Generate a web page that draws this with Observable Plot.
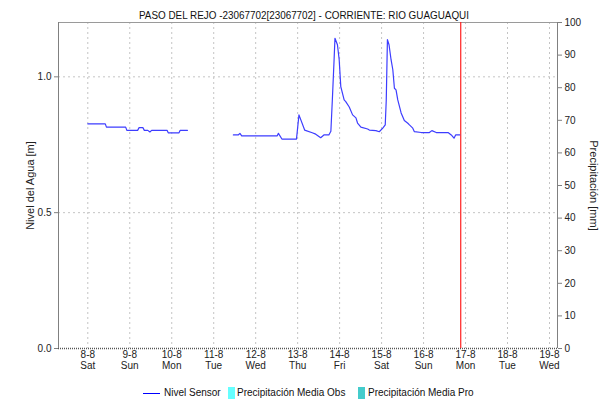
<!DOCTYPE html>
<html>
<head>
<meta charset="utf-8">
<script src="https://cdn.jsdelivr.net/npm/d3@7"></script>
<script src="https://cdn.jsdelivr.net/npm/@observablehq/plot@0.6"></script>
<style>
  html, body { margin: 0; padding: 0; background: #fff; }
  #wrap { position: relative; width: 607px; height: 402px; font-family: "Liberation Sans", Arial, sans-serif; }
  #chart { position: absolute; left: 0; top: 0; }
  .lg { position: absolute; top: 387px; font-size: 10px; color: #111; line-height: 12px; white-space: nowrap; }
  .sw { position: absolute; top: 387px; width: 7px; height: 12px; }
  .ln { position: absolute; top: 393px; height: 1px; background: #0000ff; }
</style>
</head>
<body>
<div id="wrap">
  <div id="chart"></div>
  <div class="ln" style="left:143px;width:17px"></div>
  <div class="lg" style="left:164px">Nivel Sensor</div>
  <div class="sw" style="left:228px;background:#66ffff"></div>
  <div class="lg" style="left:237px">Precipitación Media Obs</div>
  <div class="sw" style="left:358px;background:#44cccc"></div>
  <div class="lg" style="left:368px">Precipitación Media Pro</div>
</div>
<script>
const title = "PASO DEL REJO -23067702[23067702] - CORRIENTE: RIO GUAGUAQUI";
const yLabelLeft = "Nivel del Agua [m]";
const yLabelRight = "Precipitación [mm]";

// Nivel Sensor series (null = gap in the record)
const times = [
  "2020-08-08T00:00","2020-08-08T10:00","2020-08-08T10:40","2020-08-08T21:40","2020-08-08T22:20",
  "2020-08-09T04:30","2020-08-09T05:20","2020-08-09T07:30","2020-08-09T08:20","2020-08-09T10:20",
  "2020-08-09T11:30","2020-08-09T12:30","2020-08-09T21:20","2020-08-09T22:00","2020-08-10T04:10",
  "2020-08-10T04:50","2020-08-10T09:00","2020-08-10T12:00",
  "2020-08-11T11:15","2020-08-11T14:00","2020-08-11T15:00","2020-08-11T16:00","2020-08-12T12:20",
  "2020-08-12T13:00","2020-08-12T15:00","2020-08-12T23:20","2020-08-13T00:45","2020-08-13T04:00",
  "2020-08-13T08:20","2020-08-13T10:20","2020-08-13T13:10","2020-08-13T15:00","2020-08-13T17:50",
  "2020-08-13T19:00","2020-08-13T19:50","2020-08-13T20:50","2020-08-13T21:20","2020-08-13T22:45",
  "2020-08-13T23:45","2020-08-14T00:40","2020-08-14T02:35","2020-08-14T03:30","2020-08-14T05:30",
  "2020-08-14T07:25","2020-08-14T09:20","2020-08-14T10:15","2020-08-14T12:10","2020-08-14T16:00",
  "2020-08-14T17:00","2020-08-14T20:45","2020-08-14T22:40","2020-08-15T00:40","2020-08-15T02:05",
  "2020-08-15T02:40","2020-08-15T03:20","2020-08-15T04:15","2020-08-15T05:25","2020-08-15T06:25",
  "2020-08-15T07:20","2020-08-15T08:15","2020-08-15T09:15","2020-08-15T11:10","2020-08-15T13:00",
  "2020-08-15T15:00","2020-08-15T15:55","2020-08-15T17:50","2020-08-15T18:45","2020-08-15T22:40",
  "2020-08-16T03:20","2020-08-16T04:45","2020-08-16T07:15","2020-08-16T14:00","2020-08-16T15:50",
  "2020-08-16T17:25","2020-08-16T18:20","2020-08-16T20:40"
];
const levels = [
  0.827,0.827,0.815,0.815,0.803,
  0.803,0.813,0.813,0.803,0.803,
  0.797,0.803,0.803,0.794,0.794,
  0.803,0.803,null,
  0.786,0.786,0.792,0.783,0.783,
  0.792,0.771,0.771,0.860,0.804,
  0.794,0.789,0.776,0.786,0.786,
  0.800,0.915,1.063,1.142,1.118,
  1.063,0.964,0.915,0.909,0.889,
  0.860,0.849,0.830,0.815,0.808,
  0.804,0.802,0.798,0.811,0.823,
  0.915,1.137,1.118,1.063,1.026,
  0.958,0.952,0.915,0.867,0.839,
  0.829,0.823,0.811,0.798,0.795,
  0.795,0.802,0.795,0.795,0.786,
  0.774,0.786,0.786
];

// axis ticks
const tickDates = ["2020-08-08","2020-08-09","2020-08-10","2020-08-11","2020-08-12","2020-08-13",
                   "2020-08-14","2020-08-15","2020-08-16","2020-08-17","2020-08-18","2020-08-19"];
const tickDayLabels = ["8-8","9-8","10-8","11-8","12-8","13-8","14-8","15-8","16-8","17-8","18-8","19-8"];
const tickWeekdays = ["Sat","Sun","Mon","Tue","Wed","Thu","Fri","Sat","Sun","Mon","Tue","Wed"];
const leftTicks = [0, 0.5, 1.0];
const rightTicks = [0,10,20,30,40,50,60,70,80,90,100];
const xStart = "2020-08-07T07:15";
const xEnd = "2020-08-19T04:35";
const nowTime = "2020-08-16T21:15";
const yMax = 1.2;
const rightMax = 100;

const P = s => new Date(s + (s.length === 10 ? "T00:00Z" : "Z"));
const series = times.map((t, i) => ({t: P(t), v: levels[i]}));
const xt = tickDates.map((d, i) => ({t: P(d), day: tickDayLabels[i], wd: tickWeekdays[i]}));
const toLeft = r => r * yMax / rightMax;

const chart = Plot.plot({
  width: 607,
  height: 380,
  marginTop: 22,
  marginBottom: 32,
  marginLeft: 58,
  marginRight: 50,
  style: {fontFamily: "'Liberation Sans', Arial, sans-serif", fontSize: "10px", color: "#222", background: "#fff"},
  x: {type: "utc", domain: [P(xStart), P(xEnd)], axis: null},
  y: {domain: [0, yMax], axis: null},
  marks: [
    // grid
    Plot.ruleX(xt, {x: "t", stroke: "#c4c4c4", strokeDasharray: "2,3"}),
    Plot.ruleY(leftTicks.filter(d => d > 0), {y: d => d, stroke: "#c4c4c4", strokeDasharray: "2,3"}),
    // frame parts
    Plot.ruleY([yMax], {stroke: "#9a9a9a"}),
    Plot.ruleY([0], {stroke: "#555", strokeDasharray: "1,1", strokeWidth: 1.5}),
    Plot.ruleX([P(xStart), P(xEnd)], {stroke: "#808080"}),
    // left axis
    Plot.axisY(leftTicks, {anchor: "left", tickSize: 4, tickPadding: 3, tickFormat: d => d.toFixed(1), label: null, stroke: "#808080"}),
    // right axis (precipitation)
    Plot.axisY(rightTicks.map(toLeft), {anchor: "right", tickSize: 4, tickPadding: 3,
      tickFormat: d => String(Math.round(d * rightMax / yMax)), label: null, stroke: "#808080"}),
    // x tick labels
    Plot.text(xt, {x: "t", text: "day", frameAnchor: "bottom", dy: 9, fill: "#222"}),
    Plot.text(xt, {x: "t", text: "wd", frameAnchor: "bottom", dy: 20, fill: "#222"}),
    // axis titles
    Plot.text([yLabelLeft], {text: d => d, frameAnchor: "left", textAnchor: "middle", dx: -28, rotate: -90, fontSize: 11, fill: "#222"}),
    Plot.text([yLabelRight], {text: d => d, frameAnchor: "right", textAnchor: "middle", dx: 36, rotate: 90, fontSize: 11, fill: "#222"}),
    // title
    Plot.text([title], {text: d => d, frameAnchor: "top", dy: -11, dx: -4, fontSize: 11, fill: "#111", className: "ttl"}),
    // now line
    Plot.ruleX([P(nowTime)], {stroke: "#ff2020", strokeWidth: 1.2}),
    // data
    Plot.line(series, {x: "t", y: "v", stroke: "#3d3dff", strokeWidth: 1.2})
  ]
});
d3.select(chart).selectAll("g.ttl text").attr("textLength", 330).attr("lengthAdjust", "spacingAndGlyphs");
document.getElementById("chart").appendChild(chart);
</script>
</body>
</html>
